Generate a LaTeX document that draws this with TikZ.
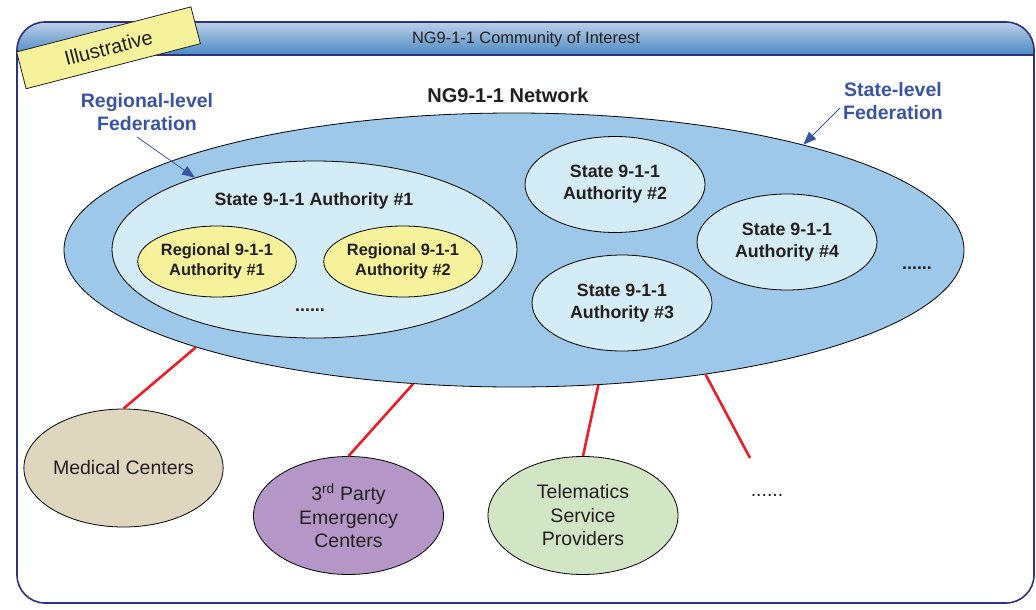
\documentclass[tikz,border=0pt]{standalone}
\usepackage{fontspec}
\setmainfont{Liberation Sans}
\usepackage{xcolor}
\usetikzlibrary{shapes.geometric,arrows.meta,positioning}

\definecolor{framenavy}{HTML}{2E3182}
\definecolor{hdrtop}{HTML}{BCCFE6}
\definecolor{hdrbot}{HTML}{4A8AC3}
\definecolor{netblue}{HTML}{9DC8E9}
\definecolor{stateblue}{HTML}{D3ECF5}
\definecolor{regyellow}{HTML}{F6F29C}
\definecolor{medbeige}{HTML}{DED6BE}
\definecolor{partypurple}{HTML}{B597C7}
\definecolor{telegreen}{HTML}{D2E6C6}
\definecolor{fedblue}{HTML}{3A54A4}
\definecolor{linkred}{HTML}{EE1C25}
\definecolor{inkgray}{HTML}{231F20}

\tikzstyle{netellipse} = [ellipse, draw=black, line width=0.8pt, fill=netblue, inner sep=0pt, minimum width=900pt, minimum height=274pt]
\tikzstyle{stateauth} = [ellipse, draw=black, line width=0.8pt, fill=stateblue, inner sep=0pt, minimum width=180pt, minimum height=96pt, align=center, text=inkgray, font=\fontsize{17.8}{22}\selectfont\bfseries]
\tikzstyle{regauth} = [ellipse, draw=black, line width=0.8pt, fill=regyellow, inner sep=0pt, minimum width=152pt, minimum height=71pt, align=center, text=inkgray, font=\fontsize{16.4}{20}\selectfont\bfseries]
\tikzstyle{partner} = [ellipse, draw=black, line width=0.8pt, inner sep=0pt, minimum width=190pt, minimum height=118pt, align=center, text=inkgray, font=\fontsize{19.5}{23.5}\selectfont]
\tikzstyle{fedlabel} = [align=center, text=fedblue, font=\fontsize{19.5}{23}\selectfont\bfseries]
\tikzstyle{fedarrow} = [draw=fedblue, line width=0.8pt, -{Triangle[length=13pt,width=10pt]}]
\tikzstyle{redlink} = [draw=linkred, line width=2.6pt]
\tikzstyle{moredots} = [text=inkgray, font=\fontsize{17.8}{22}\selectfont\bfseries]

\begin{document}
\begin{tikzpicture}[x=1pt,y=-1pt]
\useasboundingbox (0,0) rectangle (1036,610);

%% Community of Interest frame
\begin{scope}
  \clip[rounded corners=28pt] (17,22) rectangle (1034,603);
  \shade[top color=hdrtop,bottom color=hdrbot] (17,22) rectangle (1034,55);
\end{scope}
\draw[framenavy,line width=1.6pt] (17,55) -- (1034,55);
\draw[framenavy,line width=1.6pt,rounded corners=28pt] (17,22) rectangle (1034,603);
\node[text=inkgray,font=\fontsize{16.4}{20}\selectfont] (coi) at (526,39) {NG9-1-1 Community of Interest};

%% Illustrative tag
\node[draw=inkgray,line width=0.8pt,fill=regyellow,rotate=14.5,minimum width=180pt,minimum height=38pt,
      text=inkgray,font=\fontsize{20}{24}\selectfont] (illus) at (108.5,47.8) {Illustrative};

%% NG9-1-1 network with state authorities
\node[netellipse] (net) at (514,250) {};
\node[text=inkgray,font=\fontsize{20}{24}\selectfont\bfseries] (netlbl) at (508,95) {NG9-1-1 Network};

\node[stateauth,minimum width=405pt,minimum height=177pt] (st1) at (314.5,249.5) {};
\node[text=inkgray,font=\fontsize{17.8}{22}\selectfont\bfseries] (st1lbl) at (314,201) {State 9-1-1 Authority \#1};
\node[regauth] (reg1) at (217,261.5) {Regional 9-1-1\\Authority \#1};
\node[regauth] (reg2) at (403,261.5) {Regional 9-1-1\\Authority \#2};
\node[moredots] (regmore) at (310,310) {......};

\node[stateauth] (st2) at (615,184.5) {State 9-1-1\\Authority \#2};
\node[stateauth] (st3) at (622,303) {State 9-1-1\\Authority \#3};
\node[stateauth] (st4) at (787,242) {State 9-1-1\\Authority \#4};
\node[moredots] (stmore) at (917,268) {......};

%% Federation labels
\node[fedlabel] (reglbl) at (147,112) {Regional-level\\Federation};
\node[fedlabel] (statelbl) at (893,101) {State-level\\Federation};
\coordinate (regtail) at (137,137);
\coordinate (statetail) at (840,108);
\draw[fedarrow] (regtail) -- (st1.149.8);
\draw[fedarrow] (statetail) -- (net.20.2);

%% Connected partners
\coordinate (moreend) at (750,458);
\node[partner,fill=medbeige] (med) at (123.5,468) {Medical Centers};
\node[partner,fill=partypurple] (party) at (348.5,515.5) {3\textsuperscript{rd} Party\\Emergency\\Centers};
\node[partner,fill=telegreen] (tele) at (583,515.5) {Telematics\\Service\\Providers};
\node[moredots,font=\fontsize{19.5}{23.5}\selectfont] (partmore) at (767,495) {......};

\draw[redlink] (net.197.5) -- (med.north);
\draw[redlink] (net.233.1) -- (party.north);
\draw[redlink] (net.302) -- (tele.north);
\draw[redlink] (net.327.7) -- (moreend);

\end{tikzpicture}
\end{document}
